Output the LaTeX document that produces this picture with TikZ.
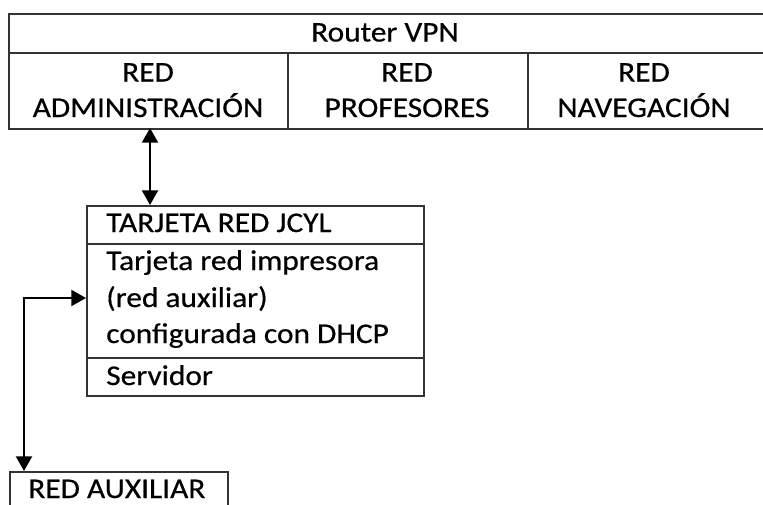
\documentclass[tikz,border=0pt]{standalone}
\usepackage{fontspec}
\setmainfont{Carlito}[FakeStretch=1.1,FakeBold=0.5]
\usetikzlibrary{arrows.meta}
\begin{document}
\begin{tikzpicture}[x=0.75pt,y=-0.75pt,
  cell/.style={draw=black!80,line width=1.5pt,rectangle,anchor=north west,inner sep=0pt},
  txt/.style={inner sep=0pt,font=\fontsize{21.4}{26}\selectfont,text=black},
  conn/.style={draw=black,line width=1.5pt,{Triangle[length=11pt,width=12pt]}-{Triangle[length=11pt,width=12pt]}}]
\useasboundingbox (0,0) rectangle (763,504);
\clip (0,0) rectangle (763,504);
% top table
\node[cell,minimum width=762*0.75pt,minimum height=39*0.75pt] (router) at (8,13) {};
\node[cell,minimum width=279*0.75pt,minimum height=76*0.75pt] (adm) at (8,52) {};
\node[cell,minimum width=240*0.75pt,minimum height=76*0.75pt] (prof) at (287,52) {};
\node[cell,minimum width=243*0.75pt,minimum height=76*0.75pt] (nav) at (527,52) {};
\node[txt,anchor=base] (troute) at (385,41.5) {Router VPN};
\node[txt,anchor=base] (ta1) at (148,81.5) {RED};
\node[txt,anchor=base] (ta2) at (148,117) {ADMINISTRACIÓN};
\node[txt,anchor=base] (tp1) at (407,81.5) {RED};
\node[txt,anchor=base] (tp2) at (407,117) {PROFESORES};
\node[txt,anchor=base] (tn1) at (644,81.5) {RED};
\node[txt,anchor=base] (tn2) at (644,117) {NAVEGACIÓN};
% server box
\node[cell,minimum width=337*0.75pt,minimum height=38*0.75pt] (jcyl) at (86,205) {};
\node[cell,minimum width=337*0.75pt,minimum height=114*0.75pt] (imp) at (86,243) {};
\node[cell,minimum width=337*0.75pt,minimum height=38*0.75pt] (serv) at (86,357) {};
\node[txt,anchor=base west] (tj) at (106,232) {TARJETA RED JCYL};
\node[txt,anchor=base west] (ti1) at (106,270) {Tarjeta red impresora};
\node[txt,anchor=base west] (ti2) at (106,307) {(red auxiliar)};
\node[txt,anchor=base west] (ti3) at (106,343) {configurada con DHCP};
\node[txt,anchor=base west] (ts) at (106,385) {Servidor};
% red auxiliar
\node[cell,minimum width=218*0.75pt,minimum height=60*0.75pt] (aux) at (9,471) {};
\node[txt,anchor=base west] (tx) at (28,498) {RED AUXILIAR};
% connectors
\coordinate (a1) at (150,128);
\coordinate (a2) at (150,205);
\draw[conn] (a1) -- (a2);
\coordinate (b1) at (86,298);
\coordinate (b2) at (24,471);
\draw[conn] (b1) -| (b2);
\end{tikzpicture}
\end{document}
